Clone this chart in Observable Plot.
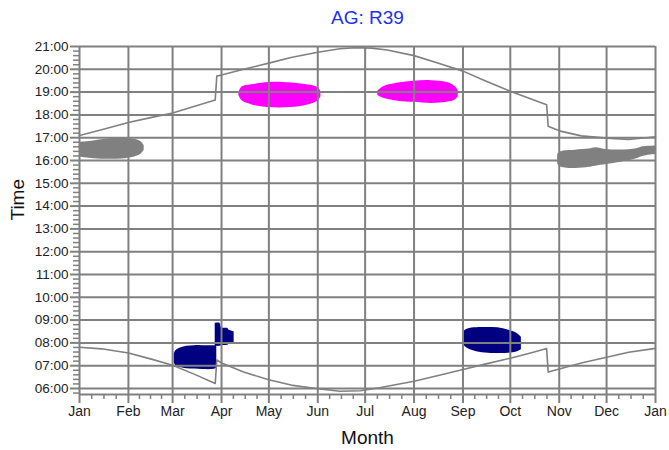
<!DOCTYPE html>
<html>
<head>
<meta charset="utf-8">
<script src="https://cdn.jsdelivr.net/npm/d3@7"></script>
<script src="https://cdn.jsdelivr.net/npm/@observablehq/plot@0.6"></script>
<style>
  html, body { margin: 0; padding: 0; background: #fff; }
</style>
</head>
<body>
<div id="chart"></div>
<script>
// ---- data ----
const monthLabels = ["Jan","Feb","Mar","Apr","May","Jun","Jul","Aug","Sep","Oct","Nov","Dec","Jan"];
const monthStarts = ["2019-01-01","2019-02-01","2019-03-01","2019-04-01","2019-05-01","2019-06-01",
  "2019-07-01","2019-08-01","2019-09-01","2019-10-01","2019-11-01","2019-12-01","2020-01-01"];
const hourTicks = [6,7,8,9,10,11,12,13,14,15,16,17,18,19,20,21];
const hourLabels = ["06:00","07:00","08:00","09:00","10:00","11:00","12:00","13:00","14:00","15:00","16:00","17:00","18:00","19:00","20:00","21:00"];

// sunset line [date, hour]
const sunset = [
  ["2019-01-01",17.10],["2019-01-15",17.35],["2019-02-01",17.67],["2019-02-15",17.88],
  ["2019-03-01",18.08],["2019-03-15",18.38],["2019-03-28",18.65],["2019-03-29",19.70],
  ["2019-04-01",19.75],["2019-04-15",20.00],["2019-05-01",20.27],["2019-05-15",20.52],
  ["2019-06-01",20.75],["2019-06-15",20.90],["2019-06-25",20.95],["2019-07-05",20.93],
  ["2019-07-15",20.85],["2019-08-01",20.60],["2019-08-15",20.30],["2019-09-01",19.92],
  ["2019-09-15",19.50],["2019-10-01",19.04],["2019-10-15",18.68],["2019-10-24",18.45],
  ["2019-10-25",17.50],["2019-11-01",17.30],["2019-11-15",17.08],["2019-12-01",16.98],
  ["2019-12-15",16.92],["2020-01-01",17.04]
];
// sunrise line [date, hour]
const sunrise = [
  ["2019-01-01",7.81],["2019-01-15",7.74],["2019-02-01",7.56],["2019-02-15",7.30],
  ["2019-03-01",7.02],["2019-03-15",6.62],["2019-03-28",6.22],["2019-03-29",7.25],
  ["2019-04-01",7.12],["2019-04-15",6.72],["2019-05-01",6.38],["2019-05-15",6.15],
  ["2019-06-01",5.99],["2019-06-15",5.88],["2019-06-28",5.90],["2019-07-10",6.03],
  ["2019-08-01",6.32],["2019-08-15",6.55],["2019-09-01",6.83],["2019-09-15",7.07],
  ["2019-10-01",7.33],["2019-10-15",7.58],["2019-10-24",7.75],["2019-10-25",6.72],
  ["2019-11-01",6.86],["2019-11-15",7.12],["2019-12-01",7.37],["2019-12-15",7.59],
  ["2020-01-01",7.76]
];

// blobs [date, low hour, high hour]
const grayWinterEarly = [
  ["2019-01-01",16.15,16.80],["2019-01-10",16.08,16.86],["2019-01-20",16.05,16.95],
  ["2019-01-30",16.08,16.97],["2019-02-05",16.15,16.93],["2019-02-09",16.28,16.82],
  ["2019-02-11",16.45,16.65]
];
const magentaSpring = [
  ["2019-04-12",18.85,18.95],["2019-04-14",18.62,19.22],["2019-04-20",18.45,19.32],
  ["2019-05-01",18.32,19.42],["2019-05-15",18.32,19.40],["2019-05-25",18.42,19.32],
  ["2019-06-01",18.60,19.20],["2019-06-03",18.78,19.02]
];
const magentaSummer = [
  ["2019-07-09",18.85,19.05],["2019-07-13",18.72,19.25],["2019-07-22",18.60,19.40],
  ["2019-08-01",18.55,19.48],["2019-08-12",18.50,19.50],["2019-08-22",18.55,19.42],
  ["2019-08-27",18.65,19.25],["2019-08-29",18.80,19.06]
];
const grayWinterLate = [
  ["2019-10-31",15.85,16.25],["2019-11-02",15.72,16.38],["2019-11-11",15.65,16.45],
  ["2019-11-20",15.70,16.50],["2019-11-24",15.75,16.56],["2019-12-01",15.82,16.48],
  ["2019-12-10",15.92,16.46],["2019-12-20",16.08,16.52],["2019-12-24",16.18,16.60],
  ["2020-01-01",16.26,16.64]
];
const navyMarch = [
  ["2019-03-02",7.15,7.50],["2019-03-03",7.00,7.66],["2019-03-06",6.92,7.78],
  ["2019-03-10",6.87,7.85],["2019-03-15",6.85,7.88],["2019-03-20",6.83,7.88],
  ["2019-03-26",6.83,7.88],["2019-03-29",6.88,7.88]
];
const navyApril = [
  ["2019-03-28",7.85,8.86],["2019-03-31",7.85,8.86],["2019-04-01",7.88,8.66],
  ["2019-04-05",7.90,8.63],["2019-04-06",7.95,8.55],["2019-04-09",8.00,8.48]
];
const navySeptember = [
  ["2019-09-01",7.95,8.45],["2019-09-03",7.80,8.58],["2019-09-08",7.65,8.66],
  ["2019-09-15",7.56,8.68],["2019-09-23",7.54,8.66],["2019-09-30",7.55,8.55],
  ["2019-10-05",7.60,8.42],["2019-10-08",7.70,8.25]
];

// ---- build ----
const P = d3.utcParse("%Y-%m-%d");
const pts = a => a.map(([d, v]) => ({date: P(d), v}));
const band = a => a.map(([d, lo, hi]) => ({date: P(d), lo, hi}));
const months = monthStarts.map(P);
const yMin = 5.737, yMax = 21;
const minorY = d3.range(5.8, 21.0001, 0.2).filter(h => Math.abs(h - Math.round(h)) > 0.01);
const minorX = [];
for (let i = 0; i < 12; i++) {
  const a = +months[i], b = +months[i + 1];
  for (let k = 1; k < 4; k++) minorX.push(new Date(a + (b - a) * k / 4));
}
const GRID = "#808080";
const blobs = [
  [grayWinterEarly, "#808080"], [grayWinterLate, "#808080"],
  [magentaSpring, "#ff00ff"], [magentaSummer, "#ff00ff"],
  [navyMarch, "#000080"], [navyApril, "#000080"], [navySeptember, "#000080"]
];

const chart = Plot.plot({
  width: 669,
  height: 450,
  marginLeft: 79,
  marginRight: 14,
  marginTop: 46,
  marginBottom: 56,
  style: {fontFamily: "'Liberation Sans', Arial, sans-serif", background: "#fff", overflow: "visible"},
  x: {type: "utc", domain: [months[0], months[12]], axis: null},
  y: {domain: [yMin, yMax], axis: null},
  marks: [
    ...blobs.map(([d, c]) => Plot.areaY(band(d), {x: "date", y1: "lo", y2: "hi", fill: c, curve: "catmull-rom"})),
    Plot.ruleY(hourTicks, {stroke: GRID, strokeWidth: 2}),
    Plot.ruleX(months, {stroke: GRID, strokeWidth: 2}),
    Plot.ruleY([yMin], {stroke: GRID, strokeWidth: 2}),
    Plot.line(pts(sunset), {x: "date", y: "v", stroke: "#808080", strokeWidth: 1.6}),
    Plot.line(pts(sunrise), {x: "date", y: "v", stroke: "#808080", strokeWidth: 1.6}),
    Plot.axisX(months, {anchor: "bottom", tickSize: 9, tickPadding: 3, stroke: GRID, strokeWidth: 2,
      fill: "#222", fontSize: 14, tickFormat: (d, i) => monthLabels[i], label: null}),
    Plot.axisX(minorX, {anchor: "bottom", tickSize: 5, stroke: GRID, strokeWidth: 1.5, tickFormat: () => "", label: null}),
    Plot.axisY(hourTicks, {anchor: "left", tickSize: 9, tickPadding: 2, stroke: GRID, strokeWidth: 2,
      fill: "#222", fontSize: 13.5, tickFormat: (d, i) => hourLabels[i], label: null}),
    Plot.axisY(minorY, {anchor: "left", tickSize: 6, stroke: GRID, strokeWidth: 1.5, tickFormat: () => "", label: null}),
    Plot.text(["AG: R39"], {frameAnchor: "top", lineAnchor: "middle", dy: -29, fontSize: 19, fill: "#1f2ff0"}),
    Plot.text(["Time"], {frameAnchor: "left", lineAnchor: "middle", dx: -62, rotate: -90, fontSize: 19, fill: "#111"}),
    Plot.text(["Month"], {frameAnchor: "bottom", lineAnchor: "middle", dy: 43, fontSize: 19, fill: "#111"})
  ]
});
document.getElementById("chart").appendChild(chart);
</script>
</body>
</html>
